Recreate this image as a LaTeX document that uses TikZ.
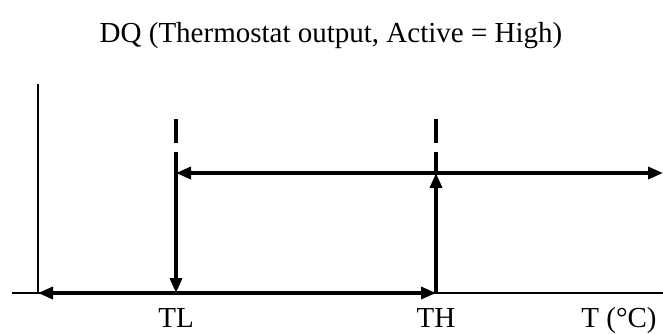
\documentclass[tikz,border=0pt]{standalone}
\usepackage{fontspec}
\setmainfont{Liberation Serif}
\usetikzlibrary{arrows.meta}
\begin{document}
\begin{tikzpicture}[x=1pt,y=-1pt,
  thickline/.style={line width=3.4pt},
  axisline/.style={line width=2pt},
  tip/.style={-{Triangle[length=15pt,width=12pt]}},
  bothtips/.style={{Triangle[length=15pt,width=12pt]}-{Triangle[length=15pt,width=12pt]}},
  lbl/.style={font=\fontsize{29}{33}\selectfont, inner sep=0pt, anchor=base}]
\useasboundingbox (0,0) rectangle (663,333);
% coordinates
\coordinate (yt) at (38,84);
\coordinate (o) at (38,293);
\coordinate (xl) at (12,293);
\coordinate (xr) at (663,293);
\coordinate (tlb) at (176,293);
\coordinate (thb) at (436,293);
\coordinate (tlu) at (176,152);
\coordinate (thu) at (436,152);
\coordinate (thm) at (436,173);
\coordinate (ul) at (176,173);
\coordinate (ur) at (663,173);
\coordinate (tld1) at (176,119);
\coordinate (tld2) at (176,143);
\coordinate (thd1) at (436,119);
\coordinate (thd2) at (436,143);
% axes
\draw[axisline] (yt) -- (o);
\draw[axisline] (xl) -- (xr);
% hysteresis
\draw[thickline,bothtips] (o) -- (thb);
\draw[thickline,tip] (thb) -- (thm);
\draw[thickline] (thu) -- (thm);
\draw[thickline,bothtips] (ul) -- (ur);
\draw[thickline,tip] (tlu) -- (tlb);
\draw[thickline] (tld1) -- (tld2);
\draw[thickline] (thd1) -- (thd2);
% labels
\node[lbl] (title) at (331,42) {DQ (Thermostat output, Active = High)};
\node[lbl] (tl) at (176,327) {TL};
\node[lbl] (th) at (436,327) {TH};
\node[lbl] (tc) at (619,327) {T (°C)};
\end{tikzpicture}
\end{document}
